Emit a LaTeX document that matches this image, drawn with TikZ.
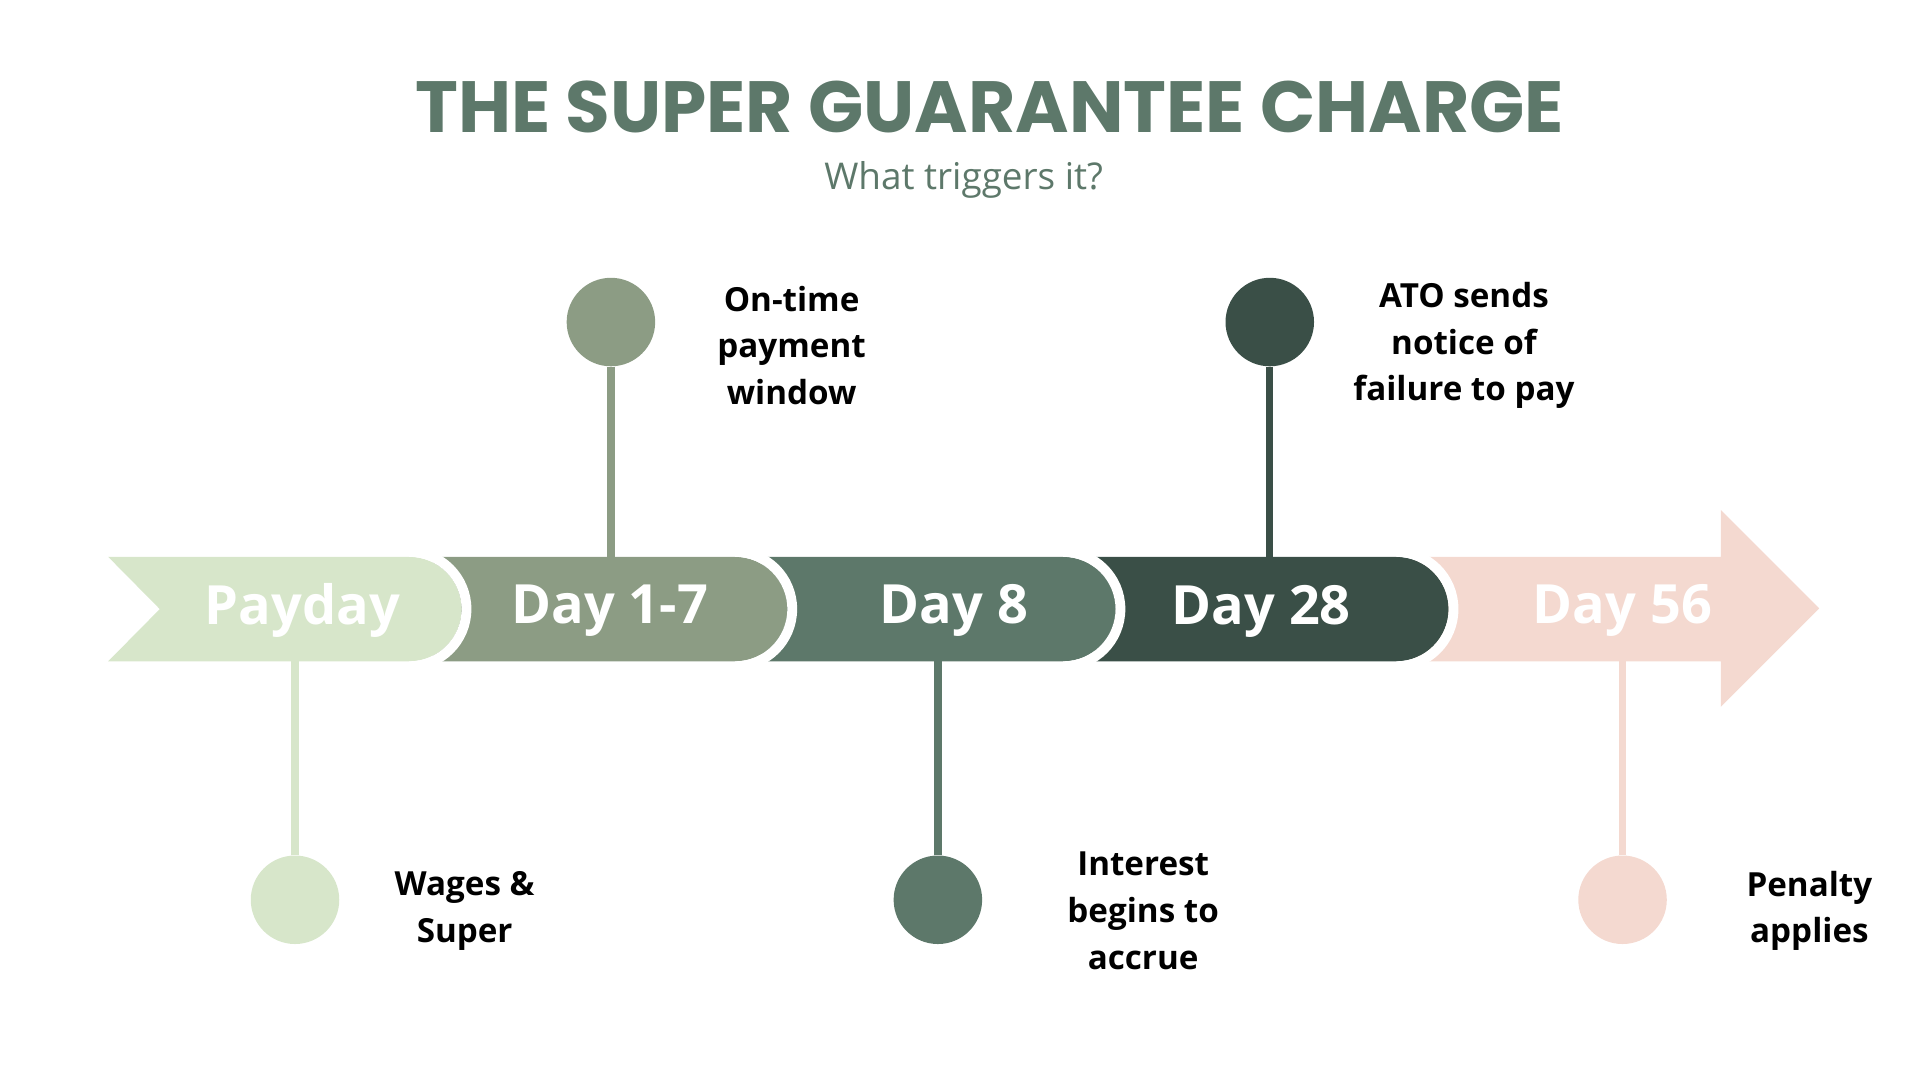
\documentclass[tikz,border=0pt]{standalone}
\usepackage{fontspec}
\setmainfont{Open Sans}
\newfontfamily\titlefont{Poppins}
\usetikzlibrary{positioning}
\definecolor{cPay}{HTML}{D7E6CA}
\definecolor{cOne}{HTML}{8C9C84}
\definecolor{cEight}{HTML}{5D786A}
\definecolor{cTwenty}{HTML}{3A4F47}
\definecolor{cFifty}{HTML}{F4D9D0}
\tikzset{
  daylbl/.style = {text=white, font=\fontsize{44}{50}\selectfont\bfseries},
  note/.style = {align=center, font=\fontsize{27}{38}\selectfont\bfseries},
  stem/.style = {line width=6pt},
}
\begin{document}
\begin{tikzpicture}[x=1pt, y=-1pt]
  \useasboundingbox (0,0) rectangle (1562,880);
  % title
  \node (title) at (805,87) {\titlefont\bfseries\color{cEight}\fontsize{59}{64}\selectfont THE SUPER GUARANTEE CHARGE};
  \node (sub) at (784,146) {\color{cEight}\fontsize{30}{36}\selectfont What triggers it?};
  % stems and dots
  \node[circle, fill=cPay, minimum size=72pt] (d0) at (240,732) {};
  \node[circle, fill=cOne, minimum size=72pt] (d1) at (497,262) {};
  \node[circle, fill=cEight, minimum size=72pt] (d2) at (763,732) {};
  \node[circle, fill=cTwenty, minimum size=72pt] (d3) at (1033,262) {};
  \node[circle, fill=cFifty, minimum size=72pt] (d4) at (1320,732) {};
  \coordinate (s0) at (240,520);
  \coordinate (s1) at (497,470);
  \coordinate (s2) at (763,520);
  \coordinate (s3) at (1033,470);
  \coordinate (s4) at (1320,520);
  \draw[stem, cPay] (d0) -- (s0);
  \draw[stem, cOne] (d1) -- (s1);
  \draw[stem, cEight] (d2) -- (s2);
  \draw[stem, cTwenty] (d3) -- (s3);
  \draw[stem, cFifty] (d4) -- (s4);
  % timeline bar, right to left
  \fill[cFifty] (1150,453) -- (1400,453) -- (1400,415) -- (1480,495) -- (1400,575) -- (1400,538) -- (1150,538) -- cycle;
  \foreach \l/\r/\c in {890/1178/cTwenty, 620/907/cEight, 352/640/cOne} {
    \fill[\c] (\l,453) -- (\r-42,453) arc[start angle=-90, end angle=90, radius=42.5] -- (\l,538) -- cycle;
    \draw[white, line width=8pt] (\r-42,449) arc[start angle=-90, end angle=90, radius=46.5];
  }
  \fill[cPay] (88,453) -- (333,453) arc[start angle=-90, end angle=90, radius=42.5] -- (88,538) -- (130,495.5) -- cycle;
  \draw[white, line width=8pt] (333,449) arc[start angle=-90, end angle=90, radius=46.5];
  \node[daylbl] (pay) at (246,497) {Payday};
  \node[daylbl] (one) at (496,497) {Day 1-7};
  \node[daylbl] (eight) at (776,497) {Day 8};
  \node[daylbl] (twenty) at (1026,497) {Day 28};
  \node[daylbl] (fifty) at (1320,497) {Day 56};
  % notes
  \node[note] (n0) at (378,741) {Wages \&\\Super};
  \node[note] (n1) at (644,281) {On-time\\payment\\window};
  \node[note] (n2) at (930,741) {Interest\\begins to\\accrue};
  \node[note] (n3) at (1191,281) {ATO sends\\notice of\\failure to pay};
  \node[note] (n4) at (1472,741) {Penalty\\applies};
\end{tikzpicture}
\end{document}
